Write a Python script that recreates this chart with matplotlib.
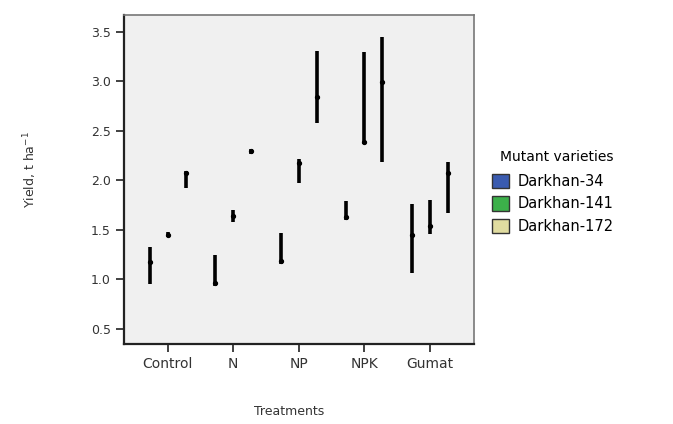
import numpy as np
import matplotlib.pyplot as plt
from matplotlib.patches import Patch

# Daten
treatments = ['Control', 'N', 'NP', 'NPK', 'Gumat']
varieties = ['Darkhan-34', 'Darkhan-141', 'Darkhan-172']
colors = ['#3a5bb0', '#3cb04a', '#e0dca0']

mean_d34 = [1.18, 0.96, 1.19, 1.63, 1.45]
low_d34 = [0.95, 0.93, 1.16, 1.60, 1.07]
high_d34 = [1.33, 1.25, 1.47, 1.79, 1.76]

mean_d141 = [1.45, 1.64, 2.17, 2.39, 1.54]
low_d141 = [1.43, 1.58, 1.97, 2.37, 1.46]
high_d141 = [1.48, 1.70, 2.22, 3.30, 1.80]

mean_d172 = [2.07, 2.30, 2.84, 2.99, 2.07]
low_d172 = [1.92, 2.27, 2.58, 2.19, 1.67]
high_d172 = [2.09, 2.32, 3.31, 3.45, 2.19]

means = [mean_d34, mean_d141, mean_d172]
lows = [low_d34, low_d141, low_d172]
highs = [high_d34, high_d141, high_d172]

fig = plt.figure(figsize=(6.73, 4.24), dpi=100)
ax = fig.add_axes([0.184, 0.189, 0.52, 0.776])
ax.set_facecolor('#f0f0f0')

x = np.arange(len(treatments))
offsets = [-0.275, 0, 0.275]
for i in range(3):
    m = np.array(means[i])
    lo = np.array(lows[i])
    hi = np.array(highs[i])
    ax.vlines(x + offsets[i], lo, hi, color='black', linewidth=2.6)
    ax.plot(x + offsets[i], m, 'o', color='black', markersize=2.8)

ax.set_xlim(-0.67, 4.67)
ax.set_ylim(0.35, 3.67)
ax.set_xticks(x)
ax.set_xticklabels(treatments, fontsize=10, color='#333333')
ax.set_yticks([0.5, 1.0, 1.5, 2.0, 2.5, 3.0, 3.5])
ax.set_yticklabels(['0.5', '1.0', '1.5', '2.0', '2.5', '3.0', '3.5'], fontsize=9, color='#333333')
ax.tick_params(axis='both', length=6, width=1.3, color='#333333')

ax.spines['left'].set_linewidth(1.6)
ax.spines['bottom'].set_linewidth(1.6)
ax.spines['left'].set_color('#222222')
ax.spines['bottom'].set_color('#222222')
ax.spines['top'].set_color('#777777')
ax.spines['right'].set_color('#777777')
ax.spines['top'].set_linewidth(1.2)
ax.spines['right'].set_linewidth(1.2)

fig.text(0.045, 0.60, 'Yield, t ha$^{-1}$', rotation=90, ha='center', va='center',
         fontsize=9, color='#333333')
fig.text(0.43, 0.03, 'Treatments', ha='center', va='center', fontsize=9, color='#333333')

handles = [Patch(facecolor=colors[i], edgecolor='#333333', label=varieties[i]) for i in range(3)]
leg = fig.legend(handles=handles, title='Mutant varieties', loc='upper left',
                 bbox_to_anchor=(0.722, 0.66), frameon=False, fontsize=10.5,
                 title_fontsize=10, handlelength=1.15, handleheight=1.15,
                 handletextpad=0.6, labelspacing=0.5, borderaxespad=0)
leg._legend_box.align = 'right'
leg._legend_box.sep = 7

fig.savefig('out.png', dpi=100)
